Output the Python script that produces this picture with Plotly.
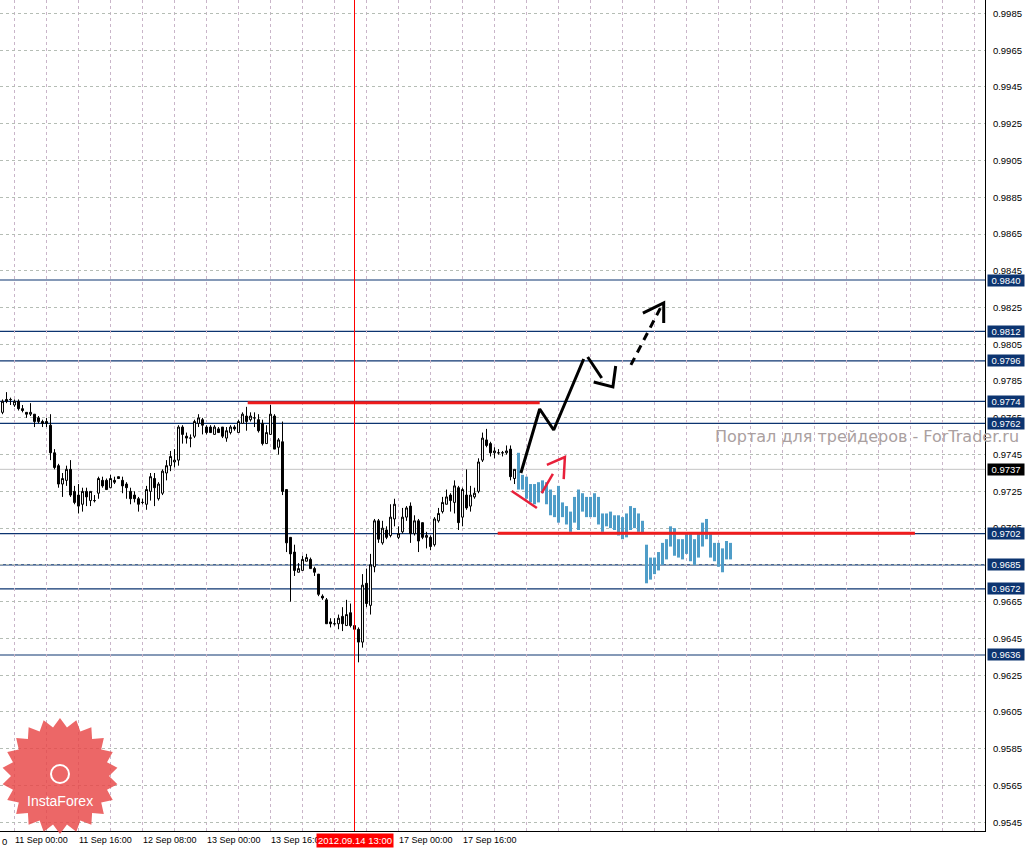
import numpy as np
import plotly.graph_objects as go

# ---------------- data ----------------
opens = [0.9768,0.9775,0.9775,0.9772,0.9774,0.9770,0.9768,0.9767,0.9767,0.9765,
         0.9763,0.9763,0.9761,0.9746,0.9739,0.9729,0.9731,0.9737,0.9725,0.9723,
         0.9718,0.9725,0.9720,0.9720,0.9724,0.9731,0.9731,0.9727,0.9731,0.9733,
         0.9731,0.9729,0.9725,0.9723,0.9721,0.9719,0.9718,0.9725,0.9732,0.9721,
         0.9724,0.9735,0.9739,0.9741,0.9742,0.9760,0.9755,0.9754,0.9755,0.9762,
         0.9764,0.9760,0.9760,0.9756,0.9759,0.9760,0.9754,0.9757,0.9760,0.9757,
         0.9762,0.9766,0.9764,0.9765,0.9764,0.9762,0.9751,0.9756,0.9766,0.9749,
         0.9752,0.9726,0.9700,0.9692,0.9681,0.9682,0.9687,0.9688,0.9683,0.9680,
         0.9668,0.9666,0.9654,0.9653,0.9653,0.9657,0.9652,0.9659,0.9652,0.9650,
         0.9643,0.9675,0.9663,0.9684,0.9709,0.9697,0.9704,0.9701,0.9710,0.9700,
         0.9703,0.9711,0.9717,0.9702,0.9709,0.9708,0.9700,0.9700,0.9696,0.9709,
         0.9714,0.9718,0.9723,0.9719,0.9727,0.9711,0.9723,0.9717,0.9722,0.9725,
         0.9742,0.9753,0.9751,0.9746,0.9746,0.9746,0.9746,0.9748,0.9732]
highs = [0.9775,0.9779,0.9776,0.9775,0.9775,0.9772,0.9768,0.9773,0.9767,0.9766,
         0.9764,0.9765,0.9767,0.9748,0.9740,0.9735,0.9739,0.9742,0.9728,0.9729,
         0.9727,0.9727,0.9725,0.9723,0.9733,0.9733,0.9732,0.9734,0.9733,0.9733,
         0.9733,0.9730,0.9727,0.9725,0.9722,0.9721,0.9728,0.9735,0.9735,0.9730,
         0.9737,0.9742,0.9747,0.9748,0.9761,0.9761,0.9757,0.9756,0.9764,0.9767,
         0.9765,0.9761,0.9761,0.9761,0.9760,0.9760,0.9760,0.9761,0.9761,0.9764,
         0.9768,0.9771,0.9768,0.9768,0.9767,0.9764,0.9761,0.9772,0.9767,0.9754,
         0.9763,0.9726,0.9700,0.9696,0.9686,0.9690,0.9691,0.9689,0.9684,0.9680,
         0.9669,0.9667,0.9656,0.9656,0.9658,0.9662,0.9666,0.9664,0.9655,0.9651,
         0.9680,0.9683,0.9691,0.9710,0.9710,0.9709,0.9706,0.9718,0.9721,0.9706,
         0.9716,0.9717,0.9719,0.9712,0.9710,0.9708,0.9703,0.9701,0.9711,0.9716,
         0.9722,0.9726,0.9724,0.9731,0.9728,0.9727,0.9737,0.9728,0.9727,0.9743,
         0.9757,0.9759,0.9752,0.9749,0.9748,0.9747,0.9750,0.9750,0.9737]
lows =  [0.9767,0.9773,0.9772,0.9771,0.9769,0.9768,0.9765,0.9766,0.9760,0.9762,
         0.9760,0.9760,0.9742,0.9737,0.9727,0.9722,0.9728,0.9722,0.9718,0.9713,
         0.9714,0.9717,0.9717,0.9719,0.9721,0.9727,0.9726,0.9727,0.9729,0.9732,
         0.9724,0.9721,0.9718,0.9719,0.9714,0.9718,0.9715,0.9720,0.9717,0.9720,
         0.9723,0.9731,0.9736,0.9738,0.9739,0.9751,0.9751,0.9749,0.9754,0.9760,
         0.9756,0.9756,0.9757,0.9756,0.9757,0.9754,0.9752,0.9756,0.9758,0.9757,
         0.9762,0.9758,0.9763,0.9760,0.9757,0.9750,0.9751,0.9756,0.9748,0.9745,
         0.9723,0.9692,0.9665,0.9679,0.9681,0.9682,0.9687,0.9683,0.9679,0.9668,
         0.9666,0.9653,0.9651,0.9652,0.9650,0.9649,0.9652,0.9651,0.9648,0.9632,
         0.9640,0.9662,0.9658,0.9681,0.9697,0.9696,0.9699,0.9700,0.9706,0.9699,
         0.9702,0.9709,0.9697,0.9701,0.9692,0.9699,0.9694,0.9693,0.9695,0.9708,
         0.9713,0.9718,0.9714,0.9713,0.9704,0.9706,0.9715,0.9714,0.9721,0.9724,
         0.9741,0.9749,0.9744,0.9743,0.9745,0.9744,0.9745,0.9731,0.9729]
closes = [0.9774,0.9774,0.9775,0.9774,0.9770,0.9769,0.9767,0.9768,0.9763,0.9763,
          0.9762,0.9762,0.9746,0.9738,0.9729,0.9732,0.9737,0.9723,0.9719,0.9717,
          0.9725,0.9722,0.9725,0.9720,0.9732,0.9728,0.9726,0.9732,0.9730,0.9732,
          0.9728,0.9727,0.9721,0.9721,0.9718,0.9719,0.9726,0.9733,0.9727,0.9729,
          0.9736,0.9739,0.9744,0.9742,0.9760,0.9756,0.9754,0.9754,0.9763,0.9765,
          0.9761,0.9757,0.9757,0.9760,0.9757,0.9755,0.9758,0.9760,0.9759,0.9763,
          0.9767,0.9763,0.9766,0.9765,0.9758,0.9751,0.9757,0.9767,0.9748,0.9753,
          0.9725,0.9697,0.9691,0.9682,0.9683,0.9688,0.9689,0.9683,0.9681,0.9669,
          0.9667,0.9653,0.9653,0.9653,0.9656,0.9653,0.9658,0.9652,0.9650,0.9643,
          0.9674,0.9664,0.9685,0.9709,0.9699,0.9705,0.9700,0.9711,0.9718,0.9702,
          0.9711,0.9716,0.9702,0.9709,0.9698,0.9700,0.9701,0.9695,0.9710,0.9713,
          0.9719,0.9722,0.9720,0.9728,0.9708,0.9726,0.9716,0.9723,0.9724,0.9741,
          0.9754,0.9750,0.9746,0.9747,0.9746,0.9746,0.9747,0.9733,0.9737]

# projected (blue) range bars following the last candle
proj_high = [0.9746,0.9734,0.9733,0.9729,0.9729,0.9730,0.9731,0.9730,0.9726,0.9723,
             0.9728,0.9719,0.9717,0.9714,0.9722,0.9726,0.9724,0.9722,0.9722,0.9724,
             0.9722,0.9713,0.9713,0.9714,0.9712,0.9712,0.9711,0.9713,0.9717,0.9716,
             0.9713,0.9709,0.9696,0.9689,0.9689,0.9692,0.9697,0.9699,0.9706,0.9705,
             0.9699,0.9699,0.9702,0.9702,0.9699,0.9702,0.9708,0.9710,0.9702,0.9697,
             0.9697,0.9694,0.9698,0.9697]
proj_low = [0.9726,0.9726,0.9721,0.9719,0.9718,0.9719,0.9724,0.9718,0.9712,0.9711,
            0.9708,0.9711,0.9707,0.9703,0.9708,0.9704,0.9714,0.9711,0.9711,0.9711,
            0.9707,0.9703,0.9706,0.9705,0.9704,0.9701,0.9699,0.9700,0.9704,0.9705,
            0.9703,0.9702,0.9675,0.9677,0.9680,0.9682,0.9685,0.9688,0.9695,0.9690,
            0.9689,0.9688,0.9691,0.9687,0.9685,0.9689,0.9695,0.9699,0.9689,0.9687,
            0.9684,0.9681,0.9688,0.9688]

tick_bars = [3, 19, 35, 51, 67, 83, 99, 115]
tick_labels = ["11 Sep 00:00", "11 Sep 16:00", "12 Sep 08:00", "13 Sep 00:00",
               "13 Sep 16:00", "14 Sep 08:00", "17 Sep 00:00", "17 Sep 16:00"]
marker_bar = 88
marker_label = "2012.09.14 13:00"

price_ticks = [0.9545, 0.9565, 0.9585, 0.9605, 0.9625, 0.9645, 0.9665, 0.9685,
               0.9705, 0.9725, 0.9745, 0.9765, 0.9785, 0.9805, 0.9825, 0.9845,
               0.9865, 0.9885, 0.9905, 0.9925, 0.9945, 0.9965, 0.9985]
levels = [0.9840, 0.9812, 0.9796, 0.9774, 0.9762, 0.9702, 0.9685, 0.9672, 0.9636]
bid = 0.9737

# red support / resistance segments: (bar from, bar to, price)
red_levels = [(61.3, 134.3, 0.97732), (123.8, 228.1, 0.97022)]

# hand-drawn arrows (bar index, price)
black_up_x = [129.6, 134.3, 137.8, 145.3]
black_up_y = [0.97350, 0.97698, 0.97584, 0.97970]
black_dn_x = [146.3, 149.8]
black_dn_y = [0.97981, 0.97867]
black_head1_x = [147.8, 152.6, 153.3]
black_head1_y = [0.97845, 0.97818, 0.97932]
black_dash_x = [157.1, 164.6]
black_dash_y = [0.97938, 0.98253]
black_head2_x = [160.1, 165.3, 165.3]
black_head2_y = [0.98220, 0.98275, 0.98166]
red_a_x = [127.3, 133.6]
red_a_y = [0.97252, 0.97160]
red_b_x = [134.8, 137.6]
red_b_y = [0.97241, 0.97345]
red_head_x = [136.1, 140.6, 140.3]
red_head_y = [0.97394, 0.97437, 0.97317]

# ---------------- figure ----------------
W, H = 1028, 851
ML, MR, MT, MB = 0, 43, 0, 20
PW, PH = W - ML - MR, H - MT - MB
XR = [-0.625, 245.625]
YR = [0.954025, 0.999232]
LEVEL_BLUE = "#0c3470"
FONT = "Liberation Sans"

bars = np.arange(len(opens))
proj_x = np.arange(len(opens), len(opens) + len(proj_high))

fig = go.Figure()

fig.add_trace(go.Bar(
    x=proj_x, y=np.array(proj_high) - np.array(proj_low), base=proj_low,
    width=0.75, marker=dict(color="#4f9dc8", line=dict(width=0)),
    hoverinfo="skip", showlegend=False))

fig.add_trace(go.Candlestick(
    x=bars, open=opens, high=highs, low=lows, close=closes,
    increasing=dict(line=dict(color="black", width=1), fillcolor="white"),
    decreasing=dict(line=dict(color="black", width=1), fillcolor="black"),
    whiskerwidth=0, hoverinfo="skip", showlegend=False))

for x0, x1, p in red_levels:
    fig.add_trace(go.Scatter(x=[x0, x1], y=[p, p], mode="lines",
                             line=dict(color="#f01c1c", width=3),
                             hoverinfo="skip", showlegend=False))

def seg(xs, ys, color, width, dash="solid"):
    fig.add_trace(go.Scatter(x=xs, y=ys, mode="lines",
                             line=dict(color=color, width=width, dash=dash),
                             hoverinfo="skip", showlegend=False))

seg(black_up_x, black_up_y, "black", 3)
seg(black_dn_x, black_dn_y, "black", 3)
seg(black_head1_x, black_head1_y, "black", 3)
seg(black_dash_x, black_dash_y, "black", 3, "8px,6px")
seg(black_head2_x, black_head2_y, "black", 3)
seg(red_a_x, red_a_y, "#e8203a", 2.5)
seg(red_b_x, red_b_y, "#e8203a", 2.5)
seg(red_head_x, red_head_y, "#e8203a", 2.5)

shapes = []
for lv in levels:
    shapes.append(dict(type="line", xref="paper", x0=0, x1=1, yref="y", y0=lv, y1=lv,
                       line=dict(color=LEVEL_BLUE, width=1.2), layer="below"))
shapes.append(dict(type="line", xref="paper", x0=0, x1=1, yref="y", y0=bid, y1=bid,
                   line=dict(color="#c4c4c4", width=1), layer="below"))
shapes.append(dict(type="line", xref="x", x0=marker_bar, x1=marker_bar, yref="paper",
                   y0=0, y1=1, line=dict(color="#ff0000", width=1), layer="above"))

# InstaForex starburst logo (decoration, pixel geometry)
def px2paper(px, py):
    return px / PW, 1 - py / PH

cx, cy, ro, ri, n = 60, 776, 58, 49, 22
pts = []
for i in range(2 * n):
    a = np.pi * i / n - np.pi / 2
    r = ro if i % 2 == 0 else ri
    pts.append(px2paper(cx + r * np.cos(a), cy + r * np.sin(a)))
path = "M " + " L ".join(f"{x:.5f},{y:.5f}" for x, y in pts) + " Z"
shapes.append(dict(type="path", xref="paper", yref="paper", path=path,
                   fillcolor="rgba(232,70,70,0.82)", line=dict(width=0), layer="above"))
rx, ry = 9 / PW, 9 / PH
c0x, c0y = px2paper(60, 774)
shapes.append(dict(type="circle", xref="paper", yref="paper",
                   x0=c0x - rx, x1=c0x + rx, y0=c0y - ry, y1=c0y + ry,
                   line=dict(color="white", width=2), layer="above"))

annotations = []
for lv in levels:
    annotations.append(dict(xref="paper", x=1, xanchor="left", xshift=2, yref="y", y=lv,
                            text=f"{lv:.4f}", showarrow=False, bgcolor=LEVEL_BLUE,
                            font=dict(color="white", size=9.5, family=FONT),
                            width=36, height=11, borderpad=0))
annotations.append(dict(xref="paper", x=1, xanchor="left", xshift=2, yref="y", y=bid,
                        text=f"{bid:.4f}", showarrow=False, bgcolor="black",
                        font=dict(color="white", size=9.5, family=FONT),
                        width=36, height=11, borderpad=0))
annotations.append(dict(xref="x", x=marker_bar, xanchor="center", yref="paper", y=0,
                        yanchor="top", yshift=-2,
                        text=marker_label, showarrow=False, bgcolor="#ff0000",
                        font=dict(color="white", size=9.5, family=FONT),
                        borderpad=1))
annotations.append(dict(xref="paper", x=0, xanchor="left", yref="paper", y=0, yanchor="top",
                        yshift=-3, text="0", showarrow=False,
                        font=dict(color="black", size=9.5, family=FONT)))
annotations.append(dict(xref="paper", x=713 / PW, xanchor="left", yref="paper",
                        y=1 - 437 / PH, yanchor="middle",
                        text="Портал для трейдеров - ForTrader.ru", showarrow=False,
                        font=dict(color="#aaa0a0", size=16, family="DejaVu Sans")))
lx, ly = px2paper(60, 801)
annotations.append(dict(xref="paper", x=lx, xanchor="center", yref="paper", y=ly,
                        yanchor="middle", text="InstaForex", showarrow=False,
                        font=dict(color="white", size=14, family=FONT)))

xtickvals = list(range(3, 246, 8))
xticktext = [tick_labels[tick_bars.index(v)] if v in tick_bars else "" for v in xtickvals]

fig.update_layout(
    width=W, height=H,
    margin=dict(l=ML, r=MR, t=MT, b=MB, pad=0),
    paper_bgcolor="white", plot_bgcolor="white",
    showlegend=False, barmode="overlay", hovermode=False,
    shapes=shapes, annotations=annotations,
    xaxis=dict(range=XR, tickvals=xtickvals, ticktext=xticktext,
               showgrid=True, gridcolor="#c9b5c9", griddash="3px,3px", gridwidth=1,
               showline=True, linecolor="black", linewidth=1, zeroline=False,
               ticks="", ticklabelposition="outside right",
               tickfont=dict(size=9, family=FONT, color="black"),
               rangeslider=dict(visible=False), fixedrange=True, automargin=False),
    yaxis=dict(range=YR, side="right", tickvals=price_ticks,
               ticktext=[f"{v:.4f}" for v in price_ticks],
               showgrid=True, gridcolor="#b5bdb5", griddash="3px,3px", gridwidth=1,
               showline=True, linecolor="black", linewidth=1, zeroline=False,
               ticks="", ticklabelstandoff=5,
               tickfont=dict(size=9.5, family=FONT, color="black"),
               fixedrange=True, automargin=False),
)

fig.write_html("out.html", config={"displayModeBar": False},
               post_script="document.body.style.margin='0';document.body.style.overflow='hidden';")
